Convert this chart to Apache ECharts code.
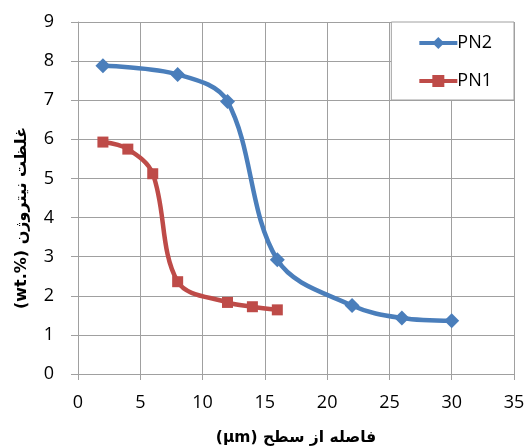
<!DOCTYPE html>
<html>
<head>
<meta charset="utf-8">
<script src="https://cdn.jsdelivr.net/npm/echarts@6/dist/echarts.min.js"></script>
<style>html,body{margin:0;padding:0;background:#fff}#c{width:527px;height:447px}</style>
</head>
<body>
<div id="c"></div>
<script>
const pn2X = [2, 8, 12, 16, 22, 26, 30];
const pn2Y = [7.88, 7.66, 6.97, 2.92, 1.75, 1.43, 1.36];
const pn1X = [2, 4, 6, 8, 12, 14, 16];
const pn1Y = [5.93, 5.75, 5.12, 2.36, 1.83, 1.72, 1.64];
const xTicks = [0, 5, 10, 15, 20, 25, 30, 35];
const yTicks = [0, 1, 2, 3, 4, 5, 6, 7, 8, 9];
const xName = '(μm) فاصله از سطح';
const yName = '(wt.%) غلظت نیتروژن';

const zip = (xs, ys) => xs.map((x, i) => [x, ys[i]]);
const chart = echarts.init(document.getElementById('c'), null, {renderer: 'canvas'});
const gridColor = '#a0a0a0';
chart.setOption({
  animation: false,
  backgroundColor: '#fff',
  textStyle: {fontFamily: 'Open Sans, Liberation Sans, DejaVu Sans, sans-serif'},
  grid: {left: 78, right: 13, top: 22, bottom: 73, containLabel: false, outerBoundsMode: 'none'},
  legend: {
    orient: 'vertical', right: 13, top: 22,
    data: ['PN2', 'PN1'],
    backgroundColor: '#fff', borderColor: gridColor, borderWidth: 1,
    padding: [12, 22, 10, 26], itemGap: 20, itemWidth: 38, itemHeight: 15,
    lineStyle: {width: 4},
    textStyle: {fontSize: 18, color: '#000', padding: [0, 0, 0, -5]}
  },
  xAxis: {
    type: 'value', min: xTicks[0], max: xTicks[xTicks.length - 1], interval: 5,
    name: xName, nameLocation: 'middle', nameGap: 56,
    nameTextStyle: {fontSize: 15.5, fontWeight: 'bold', color: '#000', fontFamily: 'DejaVu Sans'},
    axisLine: {lineStyle: {color: gridColor}},
    axisTick: {show: true, length: 6, lineStyle: {color: gridColor}},
    axisLabel: {fontSize: 18, color: '#000', margin: 20},
    splitLine: {show: true, lineStyle: {color: gridColor}}
  },
  yAxis: {
    type: 'value', min: yTicks[0], max: yTicks[yTicks.length - 1], interval: 1,
    name: yName, nameLocation: 'middle', nameGap: 48, nameRotate: 90,
    nameTextStyle: {fontSize: 16, fontWeight: 'bold', color: '#000', fontFamily: 'DejaVu Sans', padding: [0, 40, 0, 0]},
    axisLine: {show: true, lineStyle: {color: gridColor}},
    axisTick: {show: true, length: 7, lineStyle: {color: gridColor}},
    axisLabel: {fontSize: 18, color: '#000', margin: 24},
    splitLine: {show: true, lineStyle: {color: gridColor}}
  },
  series: [
    {
      name: 'PN2', type: 'line', data: zip(pn2X, pn2Y), smooth: 0.35,
      symbol: 'diamond', symbolSize: 15,
      lineStyle: {color: '#4a7ebb', width: 4.5},
      itemStyle: {color: '#4a7ebb'}
    },
    {
      name: 'PN1', type: 'line', data: zip(pn1X, pn1Y), smooth: 0.35,
      symbol: 'rect', symbolSize: 11,
      lineStyle: {color: '#be4b48', width: 4.5},
      itemStyle: {color: '#be4b48'}
    }
  ]
});
</script>
</body>
</html>
